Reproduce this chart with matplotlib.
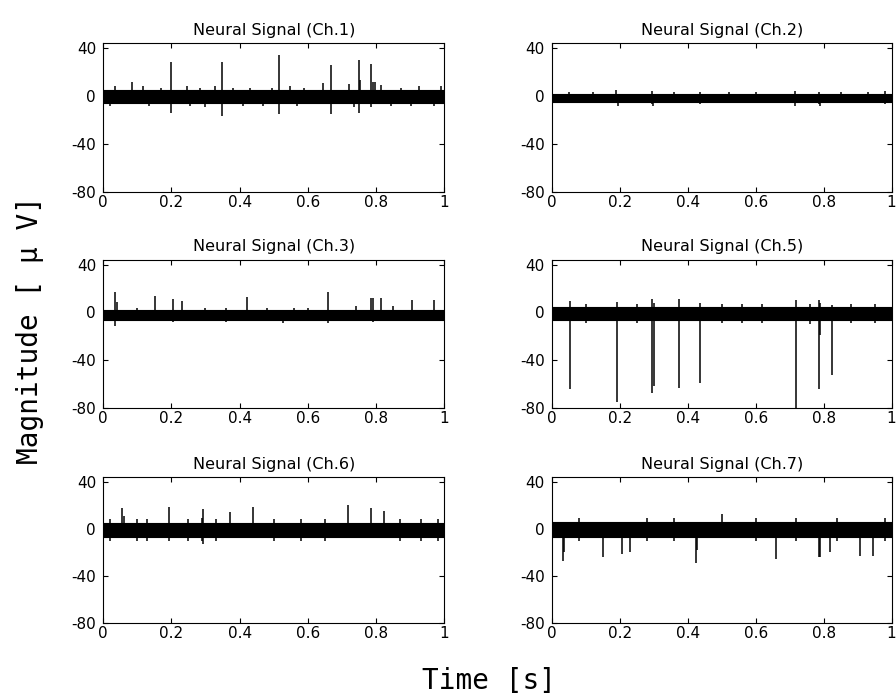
import matplotlib
matplotlib.use('Agg')
import matplotlib.pyplot as plt

plt.rcParams['axes.unicode_minus'] = False

# band of background noise (low, high) in uV, per channel
# spikes: time [s], top [uV], bottom [uV]
ch1_band = (-6, 5)
ch1_t = [0.019, 0.034, 0.086, 0.117, 0.136, 0.171, 0.2005, 0.245, 0.254, 0.284, 0.30, 0.328, 0.348, 0.382,
         0.411, 0.431, 0.47, 0.495, 0.514, 0.549, 0.568, 0.588, 0.643, 0.668, 0.72, 0.735, 0.749, 0.753,
         0.784, 0.79, 0.797, 0.813, 0.843, 0.872, 0.902, 0.926, 0.97, 0.99]
ch1_top = [0, 8, 12, 8, 0, 7, 28.5, 8, 0, 7, 0, 8, 28, 7, 0, 7, 0, 7, 34, 8, 0, 7, 11, 25.4, 9.6, 0, 29.8, 13.7,
           27, 12, 12, 9, 0, 7, 0, 8, 0, 8]
ch1_bot = [-8, -2, -2, -2, -8, -2, -14, -2, -8, -2, -8.8, -2, -16.8, -2, -8, -2, -8, -2, -15.4, -2, -8, -2, -2,
           -15, -2, -9, -14, -2, -9, -2, -2, -2, -8, -2, -8, -2, -8, -2]

ch2_band = (-5, 1.5)
ch2_t = [0.05, 0.12, 0.19, 0.195, 0.294, 0.298, 0.36, 0.437, 0.52, 0.60, 0.717, 0.786, 0.79, 0.85, 0.93, 0.982]
ch2_top = [3, 3, 4.8, 0, 4.5, 0, 3, 3, 3, 3, 4, 3, 0, 3, 3.5, 4]
ch2_bot = [-6, -6, -6, -8, -7, -8, -6, -7, -6, -6, -8, -7, -8.5, -6, -6, -7]

ch3_band = (-6, 2)
ch3_t = [0.036, 0.041, 0.151, 0.205, 0.232, 0.30, 0.423, 0.48, 0.527, 0.60, 0.659, 0.74, 0.784, 0.79, 0.815,
         0.85, 0.906, 0.97, 0.10, 0.36, 0.56]
ch3_top = [17.4, 9, 13.8, 11.3, 9.9, 4, 12.7, 4, 2, 4, 16.9, 5, 12.4, 12, 12.4, 5, 10, 10, 4, 4, 4]
ch3_bot = [-11.3, -3, -3, -8, -3, -7, -3, -7, -9, -7, -9, -7, -3, -8, -3, -7, -3, -3, -7, -8, -7]

ch5_band = (-6, 4.5)
ch5_t = [0.053, 0.191, 0.294, 0.30, 0.373, 0.437, 0.72, 0.786, 0.79, 0.825, 0.10, 0.25, 0.50, 0.62, 0.88,
         0.95, 0.76, 0.56]
ch5_top = [9.9, 9, 11, 8, 11, 8, 10, 10, 8, 6, 7, 7, 7, 7, 7, 7, 7, 7]
ch5_bot = [-64.3, -74.7, -67.3, -62, -63, -58.8, -80, -64.3, -18.8, -52.3, -9, -9, -9, -9, -9, -9, -10, -9]

ch6_band = (-7, 5)
ch6_t = [0.055, 0.06, 0.193, 0.294, 0.372, 0.438, 0.718, 0.784, 0.823, 0.02, 0.13, 0.25, 0.33, 0.50, 0.58,
         0.65, 0.87, 0.93, 0.98, 0.10, 0.29]
ch6_top = [17.4, 11, 18.8, 16.8, 14.5, 18.8, 20.2, 17.4, 15, 8, 8, 8, 8, 8, 8, 8, 8, 8, 8, 8, 9]
ch6_bot = [-3, -3, -10.7, -12.9, -3, -3, -3, -3, -3, -10, -10, -10, -10, -10, -10, -10, -10, -10, -10, -10, -10]

ch7_band = (-7, 6)
ch7_t = [0.033, 0.036, 0.151, 0.205, 0.23, 0.425, 0.428, 0.661, 0.786, 0.79, 0.818, 0.906, 0.946, 0.502,
         0.08, 0.28, 0.36, 0.60, 0.72, 0.84, 0.98]
ch7_top = [3, 3, 3, 3, 3, 3, 3, 3, 3, 3, 3, 3, 3, 12.6, 9, 9, 9, 9, 9, 9, 9]
ch7_bot = [-27, -20, -24, -21.5, -20, -28.8, -18, -26, -24, -24, -20, -23, -23, -3, -10, -10, -10, -10, -10,
           -10, -10]

channels = [
    ('Neural Signal (Ch.1)', ch1_band, ch1_t, ch1_top, ch1_bot),
    ('Neural Signal (Ch.2)', ch2_band, ch2_t, ch2_top, ch2_bot),
    ('Neural Signal (Ch.3)', ch3_band, ch3_t, ch3_top, ch3_bot),
    ('Neural Signal (Ch.5)', ch5_band, ch5_t, ch5_top, ch5_bot),
    ('Neural Signal (Ch.6)', ch6_band, ch6_t, ch6_top, ch6_bot),
    ('Neural Signal (Ch.7)', ch7_band, ch7_t, ch7_top, ch7_bot),
]

x_ticks = [0, 0.2, 0.4, 0.6, 0.8, 1]
x_ticklabels = ['0', '0.2', '0.4', '0.6', '0.8', '1']
y_ticks = [-80, -40, 0, 40]

fig = plt.figure(figsize=(8.96, 6.99), dpi=100)

lefts = [0.115, 0.616]
widths = [0.381, 0.379]
bottoms = [0.7253, 0.4163, 0.1087]
heights = [0.213, 0.212, 0.209]

for i, (title, band, t, top, bot) in enumerate(channels):
    row = i // 2
    col = i % 2
    ax = fig.add_axes([lefts[col], bottoms[row], widths[col], heights[row]])
    ax.fill_between([0, 1], band[0], band[1], color='black', linewidth=0.8)
    ax.vlines(t, bot, top, color='black', linewidth=1.1)
    ax.set_xlim(0, 1)
    ax.set_ylim(-80, 44)
    ax.set_xticks(x_ticks)
    ax.set_xticklabels(x_ticklabels, fontsize=11)
    ax.set_yticks(y_ticks)
    ax.set_yticklabels([str(v) for v in y_ticks], fontsize=11)
    ax.tick_params(direction='in', length=3.5, width=0.8, top=True, right=True)
    ax.tick_params(axis='x', pad=2)
    ax.tick_params(axis='y', pad=5)
    for s in ax.spines.values():
        s.set_linewidth(0.8)
    ax.set_title(title, fontsize=11.5, pad=6)

fig.text(0.033, 1 - 330 / 699, 'Magnitude [ \u03bc V]', rotation=90, ha='center', va='center',
         family='DejaVu Sans Mono', fontsize=20)
fig.text(0.546, 0.026, 'Time [s]', ha='center', va='center', family='DejaVu Sans Mono', fontsize=20)

plt.savefig('out.png', dpi=100)
